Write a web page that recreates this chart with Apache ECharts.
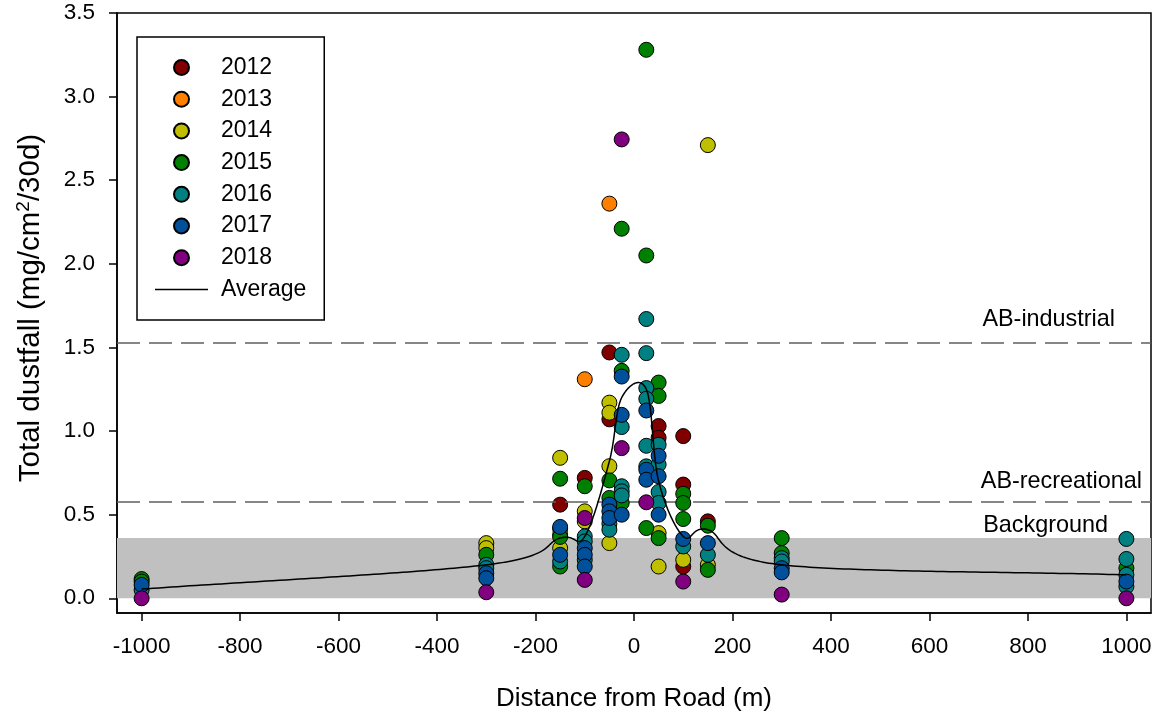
<!DOCTYPE html>
<html>
<head>
<meta charset="utf-8">
<title>Total dustfall vs distance from road</title>
<script src="https://cdn.jsdelivr.net/npm/echarts@6/dist/echarts.min.js"></script>
<style>
  html, body { margin: 0; padding: 0; background: #ffffff; }
  #chart { width: 1158px; height: 719px; }
</style>
</head>
<body>
<div id="chart"></div>
<script>
// Dustfall samples per year: [distance from road (m), total dustfall (mg/cm2/30d)]
const years = ['2012', '2013', '2014', '2015', '2016', '2017', '2018'];
const yearColors = ['#800000', '#ff8000', '#bfbf00', '#008000', '#008080', '#00509b', '#800080'];

const y2012 = [[-150, 0.56], [-100, 0.72], [-50, 1.47], [-50, 1.07], [50, 1.03], [50, 0.96],
  [100, 0.97], [100, 0.68], [100, 0.19], [150, 0.46]];
const y2013 = [[-150, 0.415], [-100, 1.31], [-50, 2.36]];
const y2014 = [[-300, 0.33], [-300, 0.30], [-150, 0.84], [-150, 0.38], [-150, 0.30],
  [-100, 0.52], [-100, 0.46], [-50, 1.17], [-50, 1.11], [-50, 0.79], [-50, 0.33],
  [50, 0.39], [50, 0.19], [100, 0.23], [150, 2.71], [150, 0.20]];
const y2015 = [[-1000, 0.115], [-1000, 0.10], [-300, 0.26], [-150, 0.715], [-150, 0.367], [-150, 0.19],
  [-100, 0.67], [-50, 0.705], [-50, 0.60], [-25, 2.21], [-25, 1.36], [-25, 0.57],
  [25, 3.28], [25, 2.05], [25, 0.42], [50, 1.29], [50, 1.21], [50, 0.36],
  [100, 0.625], [100, 0.57], [100, 0.474], [150, 0.434], [150, 0.17],
  [300, 0.36], [300, 0.27], [1000, 0.18]];
const y2016 = [[-1000, 0.05], [-300, 0.20], [-300, 0.18], [-150, 0.22], [-100, 0.37], [-100, 0.34], [-100, 0.23],
  [-50, 0.446], [-50, 0.41], [-25, 1.456], [-25, 1.024], [-25, 0.67], [-25, 0.64], [-25, 0.615],
  [25, 1.67], [25, 1.466], [25, 1.257], [25, 1.193], [25, 0.912], [25, 0.789],
  [50, 0.918], [50, 0.80], [50, 0.636], [50, 0.57], [100, 0.31], [150, 0.26],
  [300, 0.24], [300, 0.22], [1000, 0.355], [1000, 0.235], [1000, 0.14], [1000, 0.07]];
const y2017 = [[-1000, 0.08], [-300, 0.15], [-300, 0.12], [-150, 0.427], [-150, 0.26],
  [-100, 0.30], [-100, 0.26], [-100, 0.19], [-50, 0.56], [-50, 0.52], [-50, 0.48],
  [-25, 1.326], [-25, 1.097], [-25, 0.50], [25, 1.123], [25, 0.769], [25, 0.709],
  [50, 0.852], [50, 0.73], [50, 0.50], [100, 0.355], [150, 0.33], [300, 0.18], [300, 0.155], [1000, 0.10]];
const y2018 = [[-1000, 0.00], [-300, 0.036], [-100, 0.48], [-100, 0.11], [-25, 2.744], [-25, 0.898],
  [25, 0.574], [100, 0.10], [300, 0.022], [1000, 0.00]];
const yearData = [y2012, y2013, y2014, y2015, y2016, y2017, y2018];

// Average dustfall at each sampling distance
const avgDistance = [-1000, -300, -150, -100, -50, -25, 25, 50, 100, 150, 300, 1000];
const avgDustfall = [0.055, 0.20, 0.36, 0.37, 0.82, 1.20, 1.25, 0.70, 0.37, 0.41, 0.20, 0.14];

// Reference levels
const industrialLimit = 1.53;
const recreationalLimit = 0.58;
const backgroundLevel = 0.36;

// Axis ticks
const xTicks = [-1000, -800, -600, -400, -200, 0, 200, 400, 600, 800, 1000];
const yTicks = [0, 0.5, 1.0, 1.5, 2.0, 2.5, 3.0, 3.5];

const FONT = 'Liberation Sans, Arial, Helvetica, sans-serif';

// Uniform Catmull-Rom curve through pixel points (cubic Hermite with
// tangents taken from neighbouring points)
function catmullRom(pts, samplesPerSeg) {
  const n = pts.length;
  const ext = [
    [2 * pts[0][0] - pts[1][0], 2 * pts[0][1] - pts[1][1]],
    ...pts,
    [2 * pts[n - 1][0] - pts[n - 2][0], 2 * pts[n - 1][1] - pts[n - 2][1]]
  ];
  const out = [pts[0]];
  for (let i = 1; i < ext.length - 2; i++) {
    const P0 = ext[i - 1], P1 = ext[i], P2 = ext[i + 1], P3 = ext[i + 2];
    const m1 = [(P2[0] - P0[0]) / 2, (P2[1] - P0[1]) / 2];
    const m2 = [(P3[0] - P1[0]) / 2, (P3[1] - P1[1]) / 2];
    for (let s = 1; s <= samplesPerSeg; s++) {
      const t = s / samplesPerSeg;
      const t2 = t * t, t3 = t2 * t;
      const h00 = 2 * t3 - 3 * t2 + 1;
      const h10 = t3 - 2 * t2 + t;
      const h01 = -2 * t3 + 3 * t2;
      const h11 = t3 - t2;
      out.push([
        h00 * P1[0] + h10 * m1[0] + h01 * P2[0] + h11 * m2[0],
        h00 * P1[1] + h10 * m1[1] + h01 * P2[1] + h11 * m2[1]
      ]);
    }
  }
  return out;
}

const scatterSeries = years.map((yr, i) => ({
  name: yr,
  type: 'scatter',
  data: yearData[i],
  symbol: 'circle',
  symbolSize: 15,
  z: 3 + i,
  itemStyle: { color: yearColors[i], borderColor: '#000000', borderWidth: 1, opacity: 1 },
  emphasis: { disabled: true }
}));

const option = {
  animation: false,
  backgroundColor: '#ffffff',
  grid: { left: 117, right: 7, top: 13, bottom: 106, show: true, borderColor: '#000000', borderWidth: 1.5 },
  xAxis: {
    type: 'value',
    min: -1050,
    max: 1050,
    name: 'Distance from Road (m)',
    nameLocation: 'middle',
    nameGap: 73,
    nameTextStyle: { fontFamily: FONT, fontSize: 26, color: '#000000' },
    axisLine: { show: true, onZero: false, lineStyle: { color: '#000000', width: 1.5 } },
    axisTick: { show: true, length: 8, lineStyle: { color: '#000000', width: 1.5 }, customValues: xTicks },
    axisLabel: {
      fontFamily: FONT, fontSize: 22.5, color: '#000000', margin: 22, customValues: xTicks,
      formatter: v => String(Math.round(v))
    },
    splitLine: { show: false }
  },
  yAxis: {
    type: 'value',
    min: -0.088,
    max: 3.5,
    name: '{a|Total dustfall (mg/cm}{s|2}{b|/30d)}',
    nameLocation: 'middle',
    nameGap: 70,
    nameRotate: 90,
    nameTextStyle: {
      color: '#000000',
      rich: {
        a: { fontFamily: FONT, fontSize: 29.5, color: '#000000', padding: [0, 0, 0, 10] },
        b: { fontFamily: FONT, fontSize: 29.5, color: '#000000' },
        s: { fontFamily: FONT, fontSize: 19, color: '#000000', padding: [0, 0, 14, 0] }
      }
    },
    axisLine: { show: true, onZero: false, lineStyle: { color: '#000000', width: 1.5 } },
    axisTick: { show: true, length: 8, lineStyle: { color: '#000000', width: 1.5 }, customValues: yTicks },
    axisLabel: {
      fontFamily: FONT, fontSize: 22.5, color: '#000000', margin: 22, customValues: yTicks,
      formatter: v => Number(v).toFixed(1)
    },
    splitLine: { show: false }
  },
  legend: {
    orient: 'vertical',
    left: 137,
    top: 37,
    padding: [19, 18, 19, 18],
    itemGap: 8.7,
    itemWidth: 53,
    itemHeight: 15,
    borderColor: '#000000',
    borderWidth: 1.5,
    backgroundColor: '#ffffff',
    selectedMode: false,
    data: years.map(y => ({ name: y })).concat([{ name: 'Average', icon: 'path://M0,0H53V1.5H0Z' }]),
    textStyle: { fontFamily: FONT, fontSize: 23, color: '#000000', lineHeight: 23, padding: [0, 0, 0, 8] }
  },
  series: [
    {
      name: 'Reference levels',
      type: 'line',
      data: [],
      z: 1,
      silent: true,
      markArea: {
        silent: true,
        itemStyle: { color: '#c0c0c0' },
        data: [[{ yAxis: 0 }, { yAxis: backgroundLevel }]]
      },
      markLine: {
        silent: true,
        symbol: 'none',
        lineStyle: { color: '#5f5f5f', width: 1.5, type: [23, 9] },
        label: {
          show: true, position: 'insideEndTop',
          fontFamily: FONT, fontSize: 23.4, color: '#000000'
        },
        data: [
          { yAxis: industrialLimit, label: { formatter: 'AB-industrial', distance: [36, 11] } },
          { yAxis: recreationalLimit, label: { formatter: 'AB-recreational', distance: [9, 8] } },
          {
            yAxis: backgroundLevel, lineStyle: { color: 'rgba(0,0,0,0)', width: 0 },
            label: { formatter: 'Background', distance: [43, 1], color: '#000000' }
          }
        ]
      }
    },
    ...scatterSeries,
    {
      name: 'Average',
      type: 'custom',
      data: avgDistance.map((d, i) => [d, avgDustfall[i]]),
      z: 20,
      silent: true,
      itemStyle: { color: '#000000' },
      renderItem: function (params, api) {
        if (params.dataIndex !== 0) return null;
        const pix = avgDistance.map((d, i) => api.coord([d, avgDustfall[i]]));
        return {
          type: 'polyline',
          shape: { points: catmullRom(pix, 60) },
          style: { stroke: '#000000', lineWidth: 1.5, fill: null }
        };
      }
    }
  ]
};

const chart = echarts.init(document.getElementById('chart'), null, { renderer: 'canvas' });
chart.setOption(option);
</script>
</body>
</html>
